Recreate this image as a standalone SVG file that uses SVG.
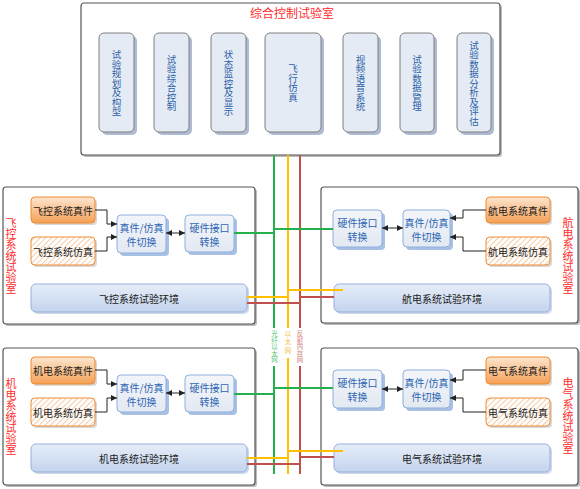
<svg xmlns="http://www.w3.org/2000/svg" width="580" height="489" viewBox="0 0 580 489">
<defs>
<linearGradient id="gOr" x1="0" y1="0" x2="0" y2="1"><stop offset="0" stop-color="#fde6cf"/><stop offset="1" stop-color="#f4a056"/></linearGradient>
<linearGradient id="gEnv" x1="0" y1="0" x2="0" y2="1"><stop offset="0" stop-color="#e6edf8"/><stop offset="1" stop-color="#c3d4ee"/></linearGradient>
<linearGradient id="gBox" x1="0" y1="0" x2="0" y2="1"><stop offset="0" stop-color="#f3f5f9"/><stop offset="1" stop-color="#e3e9f2"/></linearGradient>
<pattern id="hatch" width="4" height="4" patternUnits="userSpaceOnUse" patternTransform="rotate(45)"><rect width="4" height="4" fill="#fff"/><line x1="0" y1="0" x2="0" y2="4" stroke="#f3a868" stroke-width="1.2"/></pattern>
<marker id="arr" markerWidth="6" markerHeight="6" refX="6" refY="3" orient="auto-start-reverse" markerUnits="userSpaceOnUse"><path d="M0,0 L6,3 L0,6 z" fill="#222"/></marker>
</defs>
<style>
text{font-family:"Noto Sans CJK SC","Noto Sans",sans-serif;}
.v{writing-mode:vertical-rl;text-anchor:middle;}
.lab{fill:#fff;stroke:#555;stroke-width:1.2;}
.labsh{fill:#bbb;}
.inner{fill:#e5ebf4;stroke:#7f7f7f;stroke-width:1;}
.innersh{fill:#aebcd3;}
.itxt{font-size:9.5px;fill:#2b5fa8;}
.sw{fill:url(#gBox);stroke:#8fb0dd;stroke-width:1;}
.swsh{fill:#a9c0e5;}
.swtxt{font-size:10px;fill:#2b64b3;text-anchor:middle;dominant-baseline:central;}
.orr{fill:url(#gOr);stroke:#ef8a2e;stroke-width:1;}
.ors{fill:url(#hatch);stroke:#ef8a2e;stroke-width:1;}
.orsh{fill:#d9d9d9;}
.otxt{font-size:10px;fill:#222;text-anchor:middle;dominant-baseline:central;}
.env{fill:url(#gEnv);stroke:#93b1dd;stroke-width:1;}
.envsh{fill:#d0d8e6;}
.rtxt{font-size:11px;fill:#ff2b2b;}
.conn{fill:none;stroke:#222;stroke-width:1;}
.g{stroke:#22b14c;stroke-width:2;fill:none;}
.y{stroke:#ffc000;stroke-width:2;fill:none;}
.r{stroke:#c0504d;stroke-width:2;fill:none;}
.btxt{font-size:6.5px;}
</style>

<!-- top control lab -->
<g id="control-lab">
<rect x="83" y="5" width="419" height="152" rx="3" class="labsh"/>
<rect x="81" y="3" width="419" height="152" rx="3" class="lab"/>
<text x="292" y="12" font-size="12" fill="#ff2b2b" text-anchor="middle" dominant-baseline="central">综合控制试验室</text>
</g>
<g id="n-plan">
<rect x="102" y="36" width="35" height="99" rx="5" class="innersh"/>
<rect x="99" y="33" width="35" height="99" rx="5" class="inner"/>
<text x="116.5" y="83" class="itxt v">试验规划及构型</text>
</g>
<g id="n-ctrl">
<rect x="157" y="36" width="35" height="99" rx="5" class="innersh"/>
<rect x="154" y="33" width="35" height="99" rx="5" class="inner"/>
<text x="171.5" y="83" class="itxt v">试验综合控制</text>
</g>
<g id="n-monitor">
<rect x="214" y="36" width="35" height="99" rx="5" class="innersh"/>
<rect x="211" y="33" width="35" height="99" rx="5" class="inner"/>
<text x="228.5" y="83" class="itxt v">状态监控及显示</text>
</g>
<g id="n-flight">
<rect x="268" y="36" width="56" height="99" rx="5" class="innersh"/>
<rect x="265" y="33" width="56" height="99" rx="5" class="inner"/>
<text x="293" y="83" class="itxt v">飞行仿真</text>
</g>
<g id="n-video">
<rect x="346" y="36" width="35" height="99" rx="5" class="innersh"/>
<rect x="343" y="33" width="35" height="99" rx="5" class="inner"/>
<text x="360.5" y="83" class="itxt v">视频语音系统</text>
</g>
<g id="n-data">
<rect x="403" y="36" width="34" height="99" rx="5" class="innersh"/>
<rect x="400" y="33" width="34" height="99" rx="5" class="inner"/>
<text x="417" y="83" class="itxt v">试验数据管理</text>
</g>
<g id="n-analysis">
<rect x="460" y="36" width="34" height="99" rx="5" class="innersh"/>
<rect x="457" y="33" width="34" height="99" rx="5" class="inner"/>
<text x="474" y="83" class="itxt v">试验数据分析及评估</text>
</g>

<!-- lab frames -->
<g id="lab-fk">
<rect x="5" y="189" width="252" height="137" rx="3" class="labsh"/>
<rect x="3" y="187" width="252" height="137" rx="3" class="lab"/>
<text x="11" y="256" class="rtxt v">飞控系统试验室</text>
</g>
<g id="lab-hd">
<rect x="323" y="189" width="257" height="136" rx="3" class="labsh"/>
<rect x="321" y="187" width="257" height="136" rx="3" class="lab"/>
<text x="568" y="256" class="rtxt v">航电系统试验室</text>
</g>
<g id="lab-jd">
<rect x="5" y="350" width="252" height="137" rx="3" class="labsh"/>
<rect x="3" y="348" width="252" height="137" rx="3" class="lab"/>
<text x="11" y="417" class="rtxt v">机电系统试验室</text>
</g>
<g id="lab-dq">
<rect x="323" y="350" width="257" height="137" rx="3" class="labsh"/>
<rect x="321" y="348" width="257" height="137" rx="3" class="lab"/>
<text x="568" y="416" class="rtxt v">电气系统试验室</text>
</g>

<!-- flight control lab nodes -->
<g id="fk-real"><rect x="33" y="199" width="64" height="26" rx="4" class="orsh"/><rect x="31" y="197" width="64" height="26" rx="4" class="orr"/><text x="63" y="210" class="otxt">飞控系统真件</text></g>
<g id="fk-sim"><rect x="33" y="239" width="64" height="28" rx="4" class="orsh"/><rect x="31" y="237" width="64" height="28" rx="4" class="ors"/><text x="63" y="251" class="otxt">飞控系统仿真</text></g>
<g id="fk-switch"><rect x="120" y="218" width="49" height="38" rx="4" class="swsh"/><rect x="117" y="215" width="49" height="38" rx="4" class="sw"/><text class="swtxt"><tspan x="141.5" y="227">真件/仿真</tspan><tspan x="141.5" y="241">件切换</tspan></text></g>
<g id="fk-hw"><rect x="188" y="218" width="49" height="37" rx="4" class="swsh"/><rect x="185" y="215" width="49" height="37" rx="4" class="sw"/><text class="swtxt"><tspan x="209.5" y="227">硬件接口</tspan><tspan x="209.5" y="241">转换</tspan></text></g>
<g id="fk-env"><rect x="33" y="286" width="216" height="28" rx="5" class="envsh"/><rect x="31" y="284" width="216" height="28" rx="5" class="env"/><text x="139" y="298" class="otxt">飞控系统试验环境</text></g>

<!-- avionics lab nodes -->
<g id="hd-real"><rect x="488" y="199" width="64" height="26" rx="4" class="orsh"/><rect x="486" y="197" width="64" height="26" rx="4" class="orr"/><text x="518" y="210" class="otxt">航电系统真件</text></g>
<g id="hd-sim"><rect x="488" y="239" width="64" height="28" rx="4" class="orsh"/><rect x="486" y="237" width="64" height="28" rx="4" class="ors"/><text x="518" y="251" class="otxt">航电系统仿真</text></g>
<g id="hd-switch"><rect x="406" y="213" width="47" height="37" rx="4" class="swsh"/><rect x="403" y="210" width="47" height="37" rx="4" class="sw"/><text class="swtxt"><tspan x="426.5" y="222">真件/仿真</tspan><tspan x="426.5" y="236">件切换</tspan></text></g>
<g id="hd-hw"><rect x="336" y="213" width="49" height="37" rx="4" class="swsh"/><rect x="333" y="210" width="49" height="37" rx="4" class="sw"/><text class="swtxt"><tspan x="357.5" y="222">硬件接口</tspan><tspan x="357.5" y="236">转换</tspan></text></g>
<g id="hd-env"><rect x="336" y="286" width="216" height="28" rx="5" class="envsh"/><rect x="334" y="284" width="216" height="28" rx="5" class="env"/><text x="442" y="298" class="otxt">航电系统试验环境</text></g>

<!-- electromechanical lab nodes -->
<g id="jd-real"><rect x="33" y="359" width="64" height="27" rx="4" class="orsh"/><rect x="31" y="357" width="64" height="27" rx="4" class="orr"/><text x="63" y="370.5" class="otxt">机电系统真件</text></g>
<g id="jd-sim"><rect x="33" y="400" width="64" height="28" rx="4" class="orsh"/><rect x="31" y="398" width="64" height="28" rx="4" class="ors"/><text x="63" y="412" class="otxt">机电系统仿真</text></g>
<g id="jd-switch"><rect x="120" y="378" width="49" height="37" rx="4" class="swsh"/><rect x="117" y="375" width="49" height="37" rx="4" class="sw"/><text class="swtxt"><tspan x="141.5" y="387">真件/仿真</tspan><tspan x="141.5" y="401">件切换</tspan></text></g>
<g id="jd-hw"><rect x="188" y="378" width="49" height="37" rx="4" class="swsh"/><rect x="185" y="375" width="49" height="37" rx="4" class="sw"/><text class="swtxt"><tspan x="209.5" y="387">硬件接口</tspan><tspan x="209.5" y="401">转换</tspan></text></g>
<g id="jd-env"><rect x="33" y="446" width="216" height="28" rx="5" class="envsh"/><rect x="31" y="444" width="216" height="28" rx="5" class="env"/><text x="139" y="458" class="otxt">机电系统试验环境</text></g>

<!-- electrical lab nodes -->
<g id="dq-real"><rect x="488" y="359" width="64" height="27" rx="4" class="orsh"/><rect x="486" y="357" width="64" height="27" rx="4" class="orr"/><text x="518" y="370.5" class="otxt">电气系统真件</text></g>
<g id="dq-sim"><rect x="488" y="400" width="64" height="28" rx="4" class="orsh"/><rect x="486" y="398" width="64" height="28" rx="4" class="ors"/><text x="518" y="412" class="otxt">电气系统仿真</text></g>
<g id="dq-switch"><rect x="406" y="373" width="47" height="38" rx="4" class="swsh"/><rect x="403" y="370" width="47" height="38" rx="4" class="sw"/><text class="swtxt"><tspan x="426.5" y="382">真件/仿真</tspan><tspan x="426.5" y="396">件切换</tspan></text></g>
<g id="dq-hw"><rect x="336" y="373" width="49" height="38" rx="4" class="swsh"/><rect x="333" y="370" width="49" height="38" rx="4" class="sw"/><text class="swtxt"><tspan x="357.5" y="382">硬件接口</tspan><tspan x="357.5" y="396">转换</tspan></text></g>
<g id="dq-env"><rect x="336" y="446" width="216" height="28" rx="5" class="envsh"/><rect x="334" y="444" width="216" height="28" rx="5" class="env"/><text x="442" y="458" class="otxt">电气系统试验环境</text></g>

<!-- connectors -->
<g id="connectors">
<path class="conn" d="M95,210 H107 V224 H117" marker-end="url(#arr)"/>
<path class="conn" d="M95,251 H107 V237 H117" marker-end="url(#arr)"/>
<path class="conn" d="M166,233 H185" marker-start="url(#arr)" marker-end="url(#arr)"/>
<path class="conn" d="M486,210 H463 V218 H450" marker-end="url(#arr)"/>
<path class="conn" d="M486,251 H463 V237 H450" marker-end="url(#arr)"/>
<path class="conn" d="M382,228 H403" marker-start="url(#arr)" marker-end="url(#arr)"/>
<path class="conn" d="M95,370 H107 V384 H117" marker-end="url(#arr)"/>
<path class="conn" d="M95,412 H107 V398 H117" marker-end="url(#arr)"/>
<path class="conn" d="M166,393 H185" marker-start="url(#arr)" marker-end="url(#arr)"/>
<path class="conn" d="M486,370 H463 V380 H450" marker-end="url(#arr)"/>
<path class="conn" d="M486,412 H463 V398 H450" marker-end="url(#arr)"/>
<path class="conn" d="M382,389 H403" marker-start="url(#arr)" marker-end="url(#arr)"/>
<!-- buses -->
<path class="g" d="M274,155 V474"/>
<path class="y" d="M288,155 V474"/>
<path class="r" d="M300,155 V474"/>
<path class="g" d="M234,233 H274 M274,229 H333 M234,394 H274 M274,388 H333"/>
<path class="y" d="M247,297 H288 M288,290 H343 M247,458 H288 M288,451 H343"/>
<path class="r" d="M247,303 H300 M300,297 H334 M247,464 H300 M300,457 H334"/>
<rect x="271" y="328" width="7" height="38" fill="#fff"/>
<rect x="285" y="328" width="6" height="30" fill="#fff"/>
<rect x="297" y="328" width="6" height="38" fill="#fff"/>
<text x="274.5" y="347" class="btxt v" fill="#5cc77a">光纤以太网</text>
<text x="288" y="343" class="btxt v" fill="#f2bf3c" letter-spacing="2">以太网</text>
<text x="300" y="347" class="btxt v" fill="#d4827c">反射内存网</text>
</g>
</svg>
